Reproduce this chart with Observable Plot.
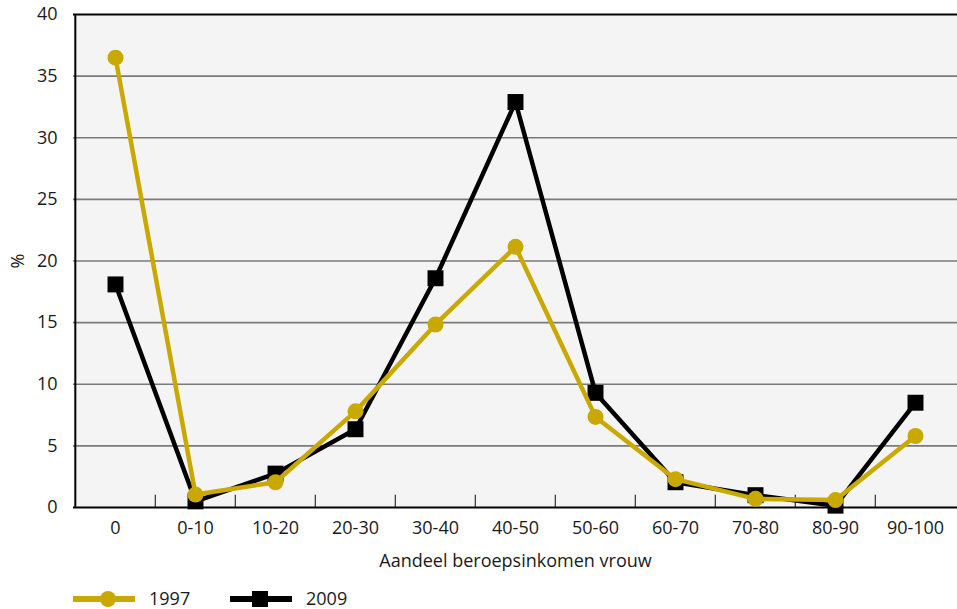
<!DOCTYPE html>
<html>
<head>
<meta charset="utf-8">
<script src="https://cdn.jsdelivr.net/npm/d3@7"></script>
<script src="https://cdn.jsdelivr.net/npm/@observablehq/plot@0.6"></script>
<style>
  html, body { margin: 0; padding: 0; background: #fff; }
  body { width: 957px; height: 609px; overflow: hidden; font-family: "Open Sans", sans-serif; }
  #legend { height: 26px; position: relative; }
  #legend svg { display: block; overflow: visible; }
</style>
</head>
<body>
<div id="chart"></div>
<div id="legend"></div>
<script>
const categories = ["0", "0-10", "10-20", "20-30", "30-40", "40-50", "50-60", "60-70", "70-80", "80-90", "90-100"];
const values1997 = [36.5, 1.05, 2.05, 7.8, 14.85, 21.15, 7.35, 2.3, 0.7, 0.6, 5.8];
const values2009 = [18.1, 0.5, 2.75, 6.35, 18.6, 32.9, 9.3, 2.05, 1.0, 0.15, 8.5];
const seriesNames = ["1997", "2009"];
const seriesColors = ["#c9a800", "#000000"];
const yTicks = [0, 5, 10, 15, 20, 25, 30, 35, 40];
const gridValues = [5, 10, 15, 20, 25, 30, 35];
const xLabel = "Aandeel beroepsinkomen vrouw";
const yLabel = "%";

const d1997 = categories.map((c, i) => ({cat: c, value: values1997[i]}));
const d2009 = categories.map((c, i) => ({cat: c, value: values2009[i]}));

const width = 957, height = 583;
const mL = 73, mR = 0;
const step = (width - mL - mR) / categories.length;

const chart = Plot.plot({
  width, height,
  marginLeft: mL, marginRight: mR, marginTop: 14, marginBottom: 76,
  style: {fontFamily: "Open Sans, sans-serif", fontSize: "18px", color: "#1a1a1a", background: "#fff"},
  x: {type: "band", domain: categories, padding: 0},
  y: {domain: [0, 40]},
  marks: [
    Plot.frame({fill: "#f4f4f4", stroke: null}),
    Plot.ruleY(gridValues, {stroke: "#7a7a7a", strokeWidth: 1.6}),
    Plot.ruleX(categories.slice(1), {x: d => d, y1: 0, y2: 1, dx: -step / 2, stroke: "#333", strokeWidth: 1.2}),
    Plot.ruleX([categories[0]], {dx: -step / 2, stroke: "#000", strokeWidth: 2}),
    Plot.ruleY([40], {stroke: "#000", strokeWidth: 2}),
    Plot.ruleY([0], {stroke: "#000", strokeWidth: 2}),
    Plot.axisY({ticks: yTicks, tickSize: 0, tickPadding: 16, label: yLabel, labelAnchor: "center", labelArrow: "none", labelOffset: 62, fontSize: 18}),
    Plot.axisX({tickSize: 0, tickPadding: 14, label: xLabel, labelAnchor: "center", labelArrow: "none", labelOffset: 59, fontSize: 18}),
    Plot.line(d2009, {x: "cat", y: "value", stroke: seriesColors[1], strokeWidth: 4.5}),
    Plot.dot(d2009, {x: "cat", y: "value", symbol: "square", r: 9, fill: seriesColors[1], stroke: null}),
    Plot.line(d1997, {x: "cat", y: "value", stroke: seriesColors[0], strokeWidth: 4.5}),
    Plot.dot(d1997, {x: "cat", y: "value", symbol: "circle", r: 8, fill: seriesColors[0], stroke: null})
  ]
});
document.getElementById("chart").appendChild(chart);

// Legend
const leg = d3.select("#legend").append("svg").attr("width", width).attr("height", 26);
const items = [
  {name: seriesNames[0], color: seriesColors[0], x0: 73, sym: "circle"},
  {name: seriesNames[1], color: seriesColors[1], x0: 230, sym: "square"}
];
items.forEach(it => {
  const g = leg.append("g");
  g.append("line").attr("x1", it.x0).attr("x2", it.x0 + 62).attr("y1", 16).attr("y2", 16)
    .attr("stroke", it.color).attr("stroke-width", 6);
  if (it.sym === "circle") {
    g.append("circle").attr("cx", it.x0 + 35).attr("cy", 16).attr("r", 8).attr("fill", it.color);
  } else {
    g.append("rect").attr("x", it.x0 + 22).attr("y", 8).attr("width", 16).attr("height", 16).attr("fill", it.color);
  }
  g.append("text").attr("x", it.x0 + 76).attr("y", 16).attr("dy", "0.35em")
    .attr("font-family", "Open Sans, sans-serif").attr("font-size", 18).attr("fill", "#1a1a1a").text(it.name);
});
</script>
</body>
</html>
